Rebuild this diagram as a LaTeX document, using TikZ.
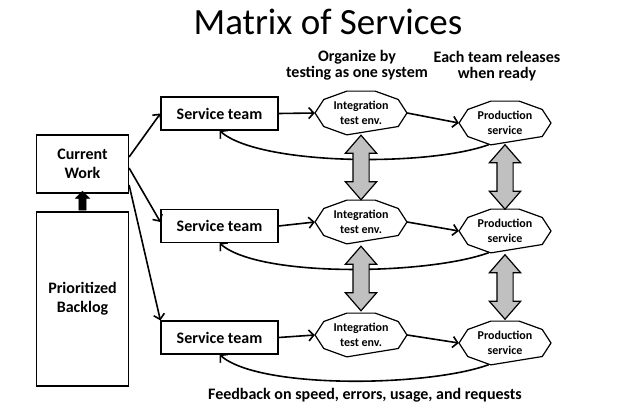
\documentclass[tikz,border=0pt]{standalone}
\usepackage{fontspec}
\setmainfont{Carlito}
\usetikzlibrary{shapes.geometric, shapes.arrows, positioning, arrows.meta}

\begin{document}
\begin{tikzpicture}[x=1pt, y=-1pt,
    box/.style={draw, line width=1.2pt, align=center, font=\bfseries\fontsize{16}{19}\selectfont},
    teambox/.style={box, minimum width=117pt, minimum height=33pt},
    envnode/.style={ellipse, minimum width=92pt, minimum height=46pt, inner sep=0pt, align=center, font=\bfseries\fontsize{12}{14.5}\selectfont},
    flow/.style={line width=1.6pt, -{Straight Barb[length=5pt, width=11pt]}},
    gaparrow/.style={double arrow, draw, line width=1.2pt, fill=arrowgray, sloped, inner xsep=0pt, inner ysep=7.5pt, minimum height=64.5pt, minimum width=30pt, double arrow head extend=7.5pt, double arrow tip angle=82},
    uparrow/.style={single arrow, draw, fill=black, sloped, inner xsep=0pt, inner ysep=3.5pt, minimum height=19pt, minimum width=14pt, single arrow head extend=3.5pt, single arrow tip angle=90},
    label/.style={align=center, font=\bfseries\fontsize{16}{16.5}\selectfont}]
    % Цвета
    \definecolor{arrowgray}{RGB}{192,192,192}
    \useasboundingbox (0,0) rectangle (640,410);

    % Текст
    \node[font=\fontsize{37}{44}\selectfont] (title) at (328,22) {Matrix of Services};
    \node[label] (organize) at (357,65) {Organize by\\testing as one system};
    \node[label] (release) at (497,66) {Each team releases\\when ready};
    \node[label] (feedback) at (365,395) {Feedback on speed, errors, usage, and requests};

    % Блоки
    \node[box, minimum width=92pt, minimum height=58pt] (work) at (82.5,164) {Current\\Work};
    \node[box, minimum width=92pt, minimum height=174pt] (backlog) at (82.5,299) {Prioritized\\Backlog};

    \node[teambox] (team1) at (219.5,113.5) {Service team};
    \node[teambox] (team2) at (219.5,226) {Service team};
    \node[teambox] (team3) at (219.5,337.5) {Service team};

    \node[envnode] (test1) at (361,113) {Integration\\test env.};
    \node[envnode] (test2) at (361,222) {Integration\\test env.};
    \node[envnode] (test3) at (361,335) {Integration\\test env.};

    \node[envnode] (prod1) at (505,123) {Production\\service};
    \node[envnode] (prod2) at (505,231) {Production\\service};
    \node[envnode] (prod3) at (505,343) {Production\\service};

    \foreach \n in {test1,test2,test3,prod1,prod2,prod3}
        \draw[line width=1.2pt, shift={(\n.center)}] (108:46 and 23)
            \foreach \a in {144,180,...,396} {-- (\a:46 and 23)} -- cycle;

    % Стрелки
    \path (backlog.north) -- node[uparrow] {} (work.south);

    \draw[flow] ([yshift=7pt]work.east) -- (team1.west);
    \draw[flow] ([yshift=-4pt]work.east) -- ([yshift=4pt]team2.west);
    \draw[flow] ([yshift=-21pt]work.east) -- (team3.north west);

    \foreach \i in {1,2,3} {
        \draw[flow] (team\i.east) -- (test\i.west);
        \draw[flow] (test\i.east) -- (prod\i.west);
        \draw[flow] (prod\i.233) .. controls +(-60,22) and +(40,35) .. (team\i.south);
    }

    \path (test1.south) -- node[gaparrow] {} (test2.north);
    \path (test2.south) -- node[gaparrow] {} (test3.north);
    \path (prod1.south) -- node[gaparrow] {} (prod2.north);
    \path (prod2.south) -- node[gaparrow] {} (prod3.north);

\end{tikzpicture}
\end{document}
